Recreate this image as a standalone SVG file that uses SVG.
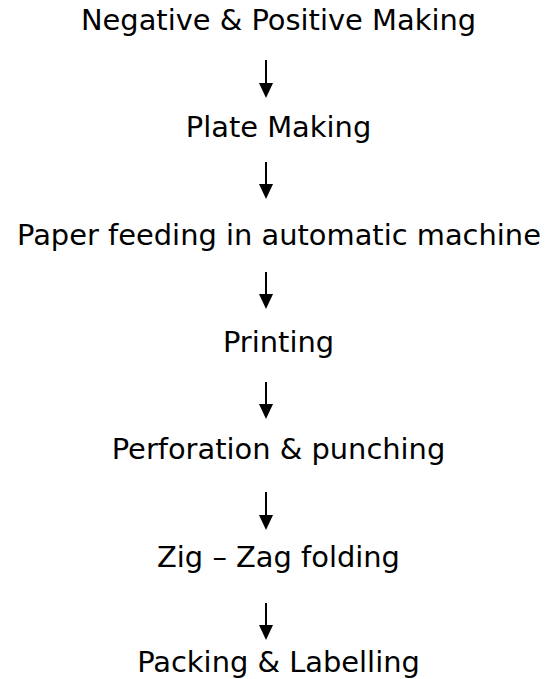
<svg xmlns="http://www.w3.org/2000/svg" width="547" height="679" viewBox="0 0 547 679">
<style>
.t{font-family:"DejaVu Sans",Verdana,sans-serif;font-size:28.9px;fill:#000;text-anchor:middle}
.c line{stroke:#000;stroke-width:2}
.c path{fill:#000}
</style>
<rect width="547" height="679" fill="#fff"/>
<g id="n1"><text class="t" x="278.5" y="29.5">Negative &amp; Positive Making</text></g>
<g id="n2"><text class="t" x="278.5" y="137">Plate Making</text></g>
<g id="n3"><text class="t" x="279" y="245">Paper feeding in automatic machine</text></g>
<g id="n4"><text class="t" x="278.5" y="352">Printing</text></g>
<g id="n5"><text class="t" x="278.5" y="458.5">Perforation &amp; punching</text></g>
<g id="n6"><text class="t" x="278.5" y="566.5">Zig – Zag folding</text></g>
<g id="n7"><text class="t" x="278.5" y="672">Packing &amp; Labelling</text></g>
<g id="connectors" class="c">
<line x1="266" y1="60" x2="266" y2="84"/><path d="M259,83 L273,83 L266,98 Z"/>
<line x1="266" y1="162" x2="266" y2="185"/><path d="M259,184 L273,184 L266,199 Z"/>
<line x1="266" y1="272" x2="266" y2="295"/><path d="M259,294 L273,294 L266,309 Z"/>
<line x1="266" y1="382" x2="266" y2="405"/><path d="M259,404 L273,404 L266,419 Z"/>
<line x1="266" y1="492" x2="266" y2="516"/><path d="M259,515 L273,515 L266,530 Z"/>
<line x1="266" y1="603" x2="266" y2="626"/><path d="M259,625 L273,625 L266,640 Z"/>
</g>
</svg>
